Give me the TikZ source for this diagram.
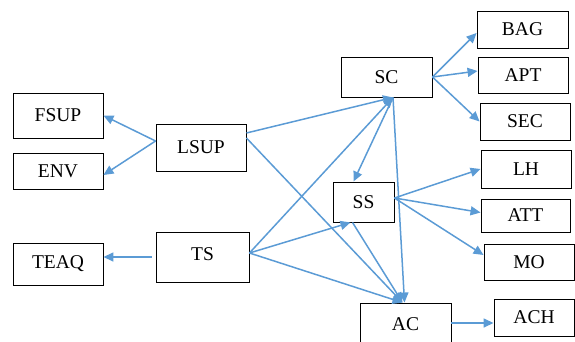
\documentclass[tikz,border=0pt]{standalone}
\usepackage{fontspec}
\setmainfont{Liberation Serif}
\usetikzlibrary{arrows.meta}
\definecolor{arrowblue}{HTML}{5B9BD5}
\begin{document}
\begin{tikzpicture}[x=1pt,y=-1pt,
  box/.style={draw=black,line width=0.9pt,rectangle,inner sep=0pt,font=\fontsize{19.5}{22}\selectfont},
  link/.style={draw=arrowblue,line width=1.5pt,-{Triangle[length=10pt,width=9pt]}}]
\useasboundingbox (0,0) rectangle (575,342);
\node[box,minimum width=90pt,minimum height=45pt] (FSUP) at (58,115.5) {FSUP};
\node[box,minimum width=90pt,minimum height=36pt] (ENV) at (58,171) {ENV};
\node[box,minimum width=90pt,minimum height=47pt] (LSUP) at (201,147.5) {LSUP};
\node[box,minimum width=90pt,minimum height=42pt] (TEAQ) at (58,264) {TEAQ};
\node[box,minimum width=93pt,minimum height=50pt] (TS) at (202.5,257) {\raisebox{5pt}{TS}};
\node[box,minimum width=91pt,minimum height=40pt] (SC) at (386.5,77) {SC};
\node[box,minimum width=91pt,minimum height=37pt] (BAG) at (522.5,29.5) {BAG};
\node[box,minimum width=90pt,minimum height=36pt] (APT) at (523,75) {APT};
\node[box,minimum width=90pt,minimum height=37pt] (SEC) at (525,121.5) {SEC};
\node[box,minimum width=90pt,minimum height=38pt] (LH) at (526,169) {LH};
\node[box,minimum width=89pt,minimum height=33pt] (ATT) at (525.5,215.5) {ATT};
\node[box,minimum width=90pt,minimum height=36pt] (MO) at (529,262) {MO};
\node[box,minimum width=80pt,minimum height=37pt] (ACH) at (534,317.5) {ACH};
\node[box,minimum width=91pt,minimum height=42pt] (AC) at (405.5,324) {AC};
\node[box,minimum width=61pt,minimum height=40pt] (SS) at (363.5,202) {SS};

\draw[link] ([yshift=6.5pt]LSUP.west) -- (FSUP.east);
\draw[link] ([yshift=6.5pt]LSUP.west) -- ([yshift=-4pt]ENV.east);
\draw[link] ([xshift=-4pt]TS.west) -- ([yshift=7pt]TEAQ.east);
\draw[link] ([yshift=14.5pt]LSUP.east) -- ([xshift=6.5pt]SC.south);
\draw[link] ([yshift=9.5pt]LSUP.east) -- ([xshift=-3pt]AC.north);
\draw[link] ([yshift=4pt]TS.east) -- ([xshift=6.5pt]SC.south);
\draw[link] ([yshift=4pt]TS.east) -- ([xshift=-13pt]SS.south);
\draw[link] ([yshift=4pt]TS.east) -- ([xshift=-3pt]AC.north);
\draw[link] ([xshift=6.5pt]SC.south) -- ([xshift=-10pt]SS.north);
\draw[link] ([xshift=6.5pt]SC.south) -- ([xshift=-1pt]AC.north);
\draw[link] ([xshift=-11pt]SS.south) -- ([xshift=-3pt]AC.north);
\draw[link] ([yshift=4pt]SS.east) -- (LH.west);
\draw[link] ([yshift=4pt]SS.east) -- ([yshift=3pt]ATT.west);
\draw[link] ([yshift=4pt]SS.east) -- ([yshift=7pt]MO.west);
\draw[link] (SC.east) -- ([yshift=-3.5pt]BAG.west);
\draw[link] (SC.east) -- ([yshift=4pt]APT.west);
\draw[link] (SC.east) -- (SEC.west);
\draw[link] ([yshift=1pt]AC.east) -- ([yshift=-5.5pt]ACH.west);
\end{tikzpicture}
\end{document}
